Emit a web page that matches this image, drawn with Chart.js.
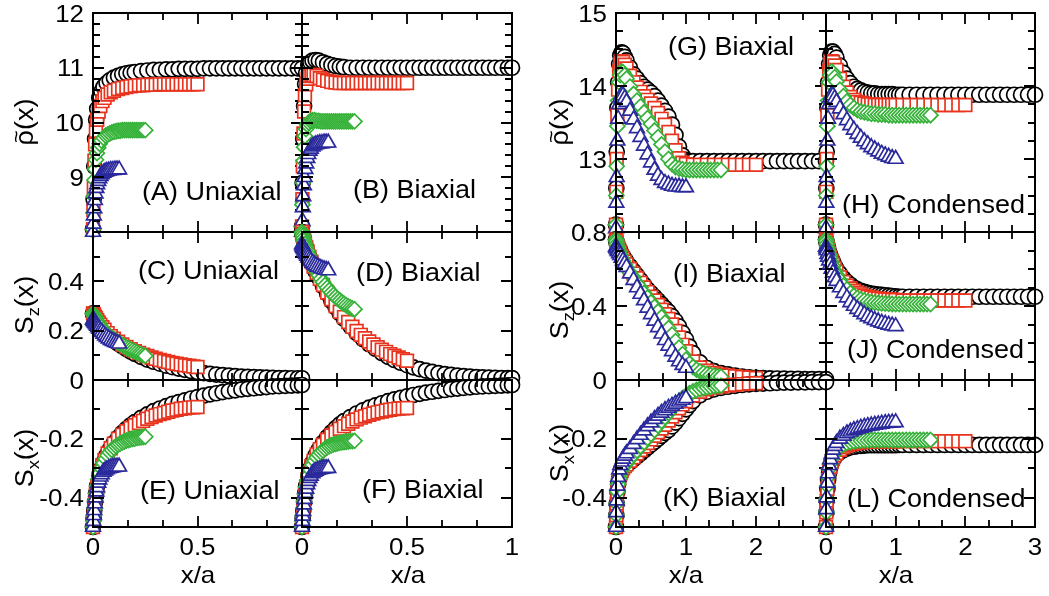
<!DOCTYPE html>
<html>
<head>
<meta charset="utf-8">
<script src="https://cdn.jsdelivr.net/npm/chart.js@4.4.0/dist/chart.umd.min.js"></script>
<style>
  body { margin: 0; background: #fff; }
  #wrap { position: relative; width: 1049px; height: 596px; }
  #wrap canvas { position: absolute; left: 0; top: 0; }
</style>
</head>
<body>
<div id="wrap"></div>
<script>
// x grids (x/a), left group (A-F) and right group (G-L)
const xBlkL = [0, 0.003, 0.006, 0.01, 0.015, 0.02, 0.03, 0.04, 0.05, 0.065, 0.08, 0.1, 0.12, 0.14, 0.16, 0.18, 0.2, 0.23, 0.26, 0.29, 0.32, 0.35, 0.38, 0.41, 0.44, 0.47, 0.5, 0.53, 0.56, 0.59, 0.62, 0.65, 0.68, 0.71, 0.74, 0.77, 0.8, 0.83, 0.86, 0.89, 0.92, 0.95, 0.98, 1.0];
const xRedL = [0, 0.002, 0.004, 0.007, 0.01, 0.014, 0.02, 0.027, 0.035, 0.045, 0.055, 0.07, 0.085, 0.1, 0.12, 0.14, 0.16, 0.18, 0.2, 0.22, 0.24, 0.26, 0.28, 0.3, 0.32, 0.34, 0.36, 0.38, 0.4, 0.42, 0.44, 0.46, 0.48, 0.5];
const xGrnL = [0, 0.002, 0.004, 0.007, 0.01, 0.014, 0.019, 0.025, 0.032, 0.04, 0.05, 0.06, 0.07, 0.08, 0.09, 0.1, 0.11, 0.12, 0.13, 0.14, 0.15, 0.16, 0.17, 0.18, 0.19, 0.2, 0.21, 0.22, 0.23, 0.24, 0.25];
const xBluL = [0, 0.002, 0.004, 0.006, 0.009, 0.012, 0.016, 0.02, 0.025, 0.03, 0.036, 0.042, 0.05, 0.058, 0.066, 0.075, 0.085, 0.095, 0.105, 0.115, 0.125];

const xBlkR = [0, 0.005, 0.01, 0.02, 0.03, 0.045, 0.06, 0.08, 0.1, 0.125, 0.15, 0.2, 0.25, 0.3, 0.35, 0.4, 0.45, 0.5, 0.55, 0.6, 0.65, 0.7, 0.75, 0.8, 0.85, 0.9, 0.95, 1.0, 1.05, 1.1, 1.2, 1.3, 1.4, 1.5, 1.6, 1.7, 1.8, 1.9, 2.0, 2.1, 2.2, 2.3, 2.4, 2.5, 2.6, 2.7, 2.8, 2.9, 3.0];
const xRedR = [0, 0.005, 0.01, 0.02, 0.03, 0.045, 0.06, 0.08, 0.1, 0.125, 0.15, 0.2, 0.25, 0.3, 0.35, 0.4, 0.45, 0.5, 0.55, 0.6, 0.65, 0.7, 0.75, 0.8, 0.85, 0.9, 0.95, 1.0, 1.1, 1.2, 1.3, 1.4, 1.5, 1.6, 1.7, 1.8, 1.9, 2.0];
const xGrnR = [0, 0.005, 0.01, 0.02, 0.03, 0.045, 0.06, 0.08, 0.1, 0.125, 0.15, 0.2, 0.25, 0.3, 0.35, 0.4, 0.45, 0.5, 0.55, 0.6, 0.65, 0.7, 0.75, 0.8, 0.85, 0.9, 0.95, 1.0, 1.05, 1.1, 1.15, 1.2, 1.25, 1.3, 1.35, 1.4, 1.45, 1.5];
const xBluR = [0, 0.005, 0.01, 0.02, 0.03, 0.045, 0.06, 0.08, 0.1, 0.125, 0.15, 0.2, 0.25, 0.3, 0.35, 0.4, 0.45, 0.5, 0.55, 0.6, 0.65, 0.7, 0.75, 0.8, 0.85, 0.9, 0.95, 1.0];

// (A) rho uniaxial
const aBlk = [8.05, 8.6, 9.2, 9.7, 10.05, 10.25, 10.45, 10.57, 10.65, 10.72, 10.77, 10.82, 10.85, 10.88, 10.9, 10.91, 10.92, 10.94, 10.95, 10.96, 10.96, 10.97, 10.97, 10.98, 10.98, 10.98, 10.98, 10.99, 10.99, 10.99, 10.99, 10.99, 10.99, 10.99, 10.99, 10.99, 10.99, 10.99, 10.99, 10.99, 10.99, 10.99, 10.99, 10.99];
const aRed = [8.05, 8.4, 8.8, 9.3, 9.6, 9.85, 10.05, 10.2, 10.3, 10.39, 10.45, 10.51, 10.55, 10.58, 10.61, 10.63, 10.65, 10.66, 10.67, 10.68, 10.68, 10.69, 10.69, 10.69, 10.7, 10.7, 10.7, 10.7, 10.7, 10.7, 10.7, 10.7, 10.7, 10.7];
const aGrn = [8.05, 8.35, 8.65, 8.95, 9.15, 9.32, 9.44, 9.54, 9.61, 9.67, 9.72, 9.76, 9.78, 9.8, 9.82, 9.83, 9.84, 9.85, 9.85, 9.86, 9.86, 9.86, 9.86, 9.86, 9.86, 9.86, 9.86, 9.86, 9.86, 9.86, 9.86];
const aBlu = [8.0, 8.15, 8.3, 8.43, 8.58, 8.7, 8.8, 8.87, 8.93, 8.98, 9.02, 9.05, 9.08, 9.1, 9.11, 9.12, 9.13, 9.13, 9.14, 9.14, 9.14];
// (B) rho biaxial
const bBlk = [8.1, 8.9, 9.7, 10.3, 10.7, 10.9, 11.05, 11.1, 11.13, 11.14, 11.13, 11.1, 11.07, 11.05, 11.03, 11.02, 11.01, 11.0, 11.0, 11.0, 11.0, 11.0, 11.0, 11.0, 11.0, 11.0, 11.0, 11.0, 11.0, 11.0, 11.0, 11.0, 11.0, 11.0, 11.0, 11.0, 11.0, 11.0, 11.0, 11.0, 11.0, 11.0, 11.0, 11.0];
const bRed = [8.1, 8.6, 9.2, 9.8, 10.2, 10.5, 10.7, 10.8, 10.85, 10.87, 10.87, 10.85, 10.81, 10.78, 10.76, 10.74, 10.73, 10.72, 10.72, 10.72, 10.72, 10.72, 10.72, 10.72, 10.72, 10.72, 10.72, 10.72, 10.72, 10.72, 10.72, 10.72, 10.72, 10.72];
const bGrn = [8.1, 8.5, 8.9, 9.3, 9.55, 9.75, 9.88, 9.96, 10.0, 10.03, 10.04, 10.04, 10.03, 10.03, 10.02, 10.02, 10.02, 10.02, 10.02, 10.02, 10.02, 10.02, 10.02, 10.02, 10.02, 10.02, 10.02, 10.02, 10.02, 10.02, 10.02];
const bBlu = [8.0, 8.2, 8.45, 8.65, 8.85, 9.0, 9.15, 9.25, 9.35, 9.42, 9.48, 9.52, 9.56, 9.58, 9.6, 9.61, 9.62, 9.62, 9.63, 9.63, 9.63];
// (C) Sz uniaxial
const cBlk = [0.27, 0.265, 0.26, 0.255, 0.248, 0.24, 0.228, 0.216, 0.205, 0.19, 0.177, 0.162, 0.148, 0.136, 0.125, 0.115, 0.106, 0.094, 0.083, 0.074, 0.066, 0.058, 0.052, 0.046, 0.041, 0.036, 0.032, 0.028, 0.025, 0.022, 0.02, 0.018, 0.016, 0.014, 0.013, 0.012, 0.011, 0.01, 0.009, 0.008, 0.008, 0.007, 0.007, 0.007];
const cRed = [0.27, 0.268, 0.265, 0.26, 0.255, 0.25, 0.242, 0.233, 0.224, 0.214, 0.204, 0.19, 0.178, 0.167, 0.155, 0.144, 0.134, 0.125, 0.117, 0.11, 0.103, 0.097, 0.091, 0.086, 0.081, 0.077, 0.073, 0.069, 0.066, 0.063, 0.06, 0.058, 0.055, 0.053];
const cGrn = [0.27, 0.267, 0.264, 0.259, 0.254, 0.248, 0.24, 0.232, 0.223, 0.214, 0.204, 0.195, 0.186, 0.178, 0.171, 0.164, 0.158, 0.152, 0.147, 0.142, 0.137, 0.132, 0.128, 0.124, 0.12, 0.116, 0.112, 0.108, 0.105, 0.101, 0.098];
const cBlu = [0.245, 0.243, 0.24, 0.237, 0.233, 0.229, 0.224, 0.219, 0.213, 0.207, 0.2, 0.194, 0.187, 0.18, 0.174, 0.168, 0.162, 0.157, 0.153, 0.15, 0.147];
// (D) Sz biaxial
const dBlk = [0.6, 0.59, 0.58, 0.565, 0.55, 0.535, 0.51, 0.49, 0.47, 0.44, 0.415, 0.38, 0.35, 0.32, 0.295, 0.27, 0.248, 0.218, 0.19, 0.166, 0.145, 0.126, 0.109, 0.094, 0.081, 0.07, 0.06, 0.051, 0.044, 0.038, 0.033, 0.028, 0.024, 0.021, 0.018, 0.016, 0.014, 0.012, 0.011, 0.01, 0.009, 0.008, 0.008, 0.008];
const dRed = [0.6, 0.592, 0.585, 0.575, 0.565, 0.553, 0.537, 0.52, 0.5, 0.48, 0.46, 0.435, 0.41, 0.385, 0.355, 0.327, 0.3, 0.277, 0.255, 0.235, 0.216, 0.199, 0.183, 0.169, 0.156, 0.144, 0.133, 0.123, 0.114, 0.105, 0.098, 0.091, 0.084, 0.078];
const dGrn = [0.6, 0.592, 0.584, 0.574, 0.564, 0.552, 0.539, 0.524, 0.508, 0.491, 0.472, 0.455, 0.439, 0.424, 0.41, 0.397, 0.385, 0.374, 0.364, 0.354, 0.345, 0.337, 0.329, 0.322, 0.315, 0.309, 0.303, 0.298, 0.294, 0.29, 0.287];
const dBlu = [0.55, 0.545, 0.54, 0.536, 0.53, 0.524, 0.517, 0.51, 0.503, 0.496, 0.489, 0.482, 0.475, 0.469, 0.464, 0.459, 0.455, 0.451, 0.448, 0.446, 0.444];
// (E) Sx uniaxial
const eBlk = [-0.5, -0.47, -0.445, -0.415, -0.385, -0.36, -0.325, -0.3, -0.28, -0.256, -0.236, -0.214, -0.196, -0.18, -0.166, -0.154, -0.143, -0.129, -0.117, -0.106, -0.097, -0.089, -0.081, -0.075, -0.069, -0.063, -0.058, -0.053, -0.049, -0.045, -0.041, -0.038, -0.035, -0.032, -0.03, -0.028, -0.026, -0.024, -0.022, -0.021, -0.02, -0.019, -0.018, -0.017];
const eRed = [-0.5, -0.48, -0.46, -0.435, -0.41, -0.385, -0.36, -0.335, -0.312, -0.29, -0.272, -0.25, -0.232, -0.217, -0.2, -0.186, -0.174, -0.163, -0.154, -0.146, -0.139, -0.132, -0.126, -0.121, -0.116, -0.112, -0.108, -0.104, -0.101, -0.098, -0.096, -0.094, -0.093, -0.092];
const eGrn = [-0.5, -0.48, -0.46, -0.435, -0.41, -0.385, -0.36, -0.338, -0.318, -0.3, -0.283, -0.268, -0.256, -0.246, -0.238, -0.231, -0.225, -0.22, -0.216, -0.212, -0.209, -0.206, -0.204, -0.202, -0.2, -0.199, -0.197, -0.196, -0.195, -0.194, -0.193];
const eBlu = [-0.5, -0.48, -0.46, -0.443, -0.42, -0.4, -0.38, -0.365, -0.35, -0.339, -0.329, -0.321, -0.313, -0.308, -0.304, -0.301, -0.299, -0.297, -0.296, -0.295, -0.295];
// (F) Sx biaxial
const fBlk = [-0.5, -0.47, -0.445, -0.415, -0.385, -0.36, -0.325, -0.3, -0.28, -0.256, -0.236, -0.213, -0.194, -0.178, -0.164, -0.151, -0.14, -0.126, -0.114, -0.103, -0.094, -0.086, -0.079, -0.072, -0.066, -0.061, -0.056, -0.051, -0.047, -0.043, -0.04, -0.037, -0.034, -0.031, -0.029, -0.027, -0.025, -0.023, -0.022, -0.021, -0.02, -0.019, -0.018, -0.017];
const fRed = [-0.5, -0.48, -0.46, -0.435, -0.41, -0.386, -0.362, -0.338, -0.315, -0.293, -0.275, -0.253, -0.235, -0.22, -0.203, -0.189, -0.177, -0.166, -0.157, -0.149, -0.141, -0.134, -0.128, -0.123, -0.118, -0.114, -0.11, -0.107, -0.104, -0.101, -0.099, -0.097, -0.096, -0.095];
const fGrn = [-0.5, -0.48, -0.46, -0.436, -0.412, -0.388, -0.364, -0.342, -0.323, -0.306, -0.289, -0.275, -0.263, -0.254, -0.246, -0.24, -0.234, -0.229, -0.225, -0.222, -0.219, -0.217, -0.215, -0.213, -0.212, -0.211, -0.21, -0.209, -0.208, -0.208, -0.207];
const fBlu = [-0.5, -0.48, -0.462, -0.446, -0.424, -0.405, -0.385, -0.37, -0.355, -0.344, -0.334, -0.326, -0.318, -0.313, -0.309, -0.306, -0.304, -0.302, -0.301, -0.3, -0.3];
// (G) rho biaxial, wide slab
const gBlk = [12.1, 12.6, 13.1, 13.7, 14.05, 14.3, 14.42, 14.46, 14.45, 14.4, 14.35, 14.25, 14.16, 14.1, 14.04, 13.99, 13.95, 13.91, 13.86, 13.8, 13.73, 13.66, 13.58, 13.47, 13.33, 13.17, 13.05, 12.99, 12.97, 12.97, 12.97, 12.97, 12.97, 12.97, 12.97, 12.97, 12.97, 12.97, 12.97, 12.97, 12.97, 12.97, 12.97, 12.97, 12.97, 12.97, 12.97, 12.97, 12.97];
const gRed = [12.1, 12.55, 13.0, 13.6, 13.95, 14.2, 14.3, 14.34, 14.33, 14.29, 14.24, 14.14, 14.05, 13.98, 13.92, 13.86, 13.81, 13.76, 13.7, 13.63, 13.55, 13.47, 13.37, 13.25, 13.12, 13.01, 12.95, 12.93, 12.92, 12.92, 12.92, 12.92, 12.92, 12.92, 12.92, 12.92, 12.92, 12.92];
const gGrn = [12.1, 12.5, 12.9, 13.45, 13.8, 14.05, 14.15, 14.2, 14.19, 14.15, 14.1, 13.99, 13.89, 13.8, 13.72, 13.64, 13.56, 13.48, 13.39, 13.3, 13.2, 13.1, 13.0, 12.93, 12.89, 12.87, 12.86, 12.85, 12.85, 12.85, 12.85, 12.85, 12.85, 12.85, 12.85, 12.85, 12.85, 12.85];
const gBlu = [12.05, 12.4, 12.75, 13.25, 13.55, 13.75, 13.84, 13.88, 13.87, 13.83, 13.78, 13.66, 13.54, 13.42, 13.3, 13.18, 13.06, 12.95, 12.85, 12.77, 12.71, 12.67, 12.65, 12.63, 12.62, 12.62, 12.61, 12.61];
// (H) rho condensed
const hBlk = [12.1, 12.6, 13.1, 13.7, 14.05, 14.3, 14.42, 14.47, 14.47, 14.44, 14.39, 14.28, 14.18, 14.1, 14.04, 13.99, 13.96, 13.94, 13.92, 13.91, 13.9, 13.9, 13.89, 13.89, 13.89, 13.89, 13.89, 13.88, 13.88, 13.88, 13.88, 13.88, 13.88, 13.88, 13.88, 13.88, 13.88, 13.88, 13.88, 13.88, 13.88, 13.88, 13.88, 13.88, 13.88, 13.88, 13.88, 13.88, 13.88];
const hRed = [12.1, 12.55, 13.0, 13.6, 13.95, 14.2, 14.3, 14.34, 14.33, 14.28, 14.22, 14.1, 13.99, 13.91, 13.85, 13.81, 13.78, 13.77, 13.76, 13.75, 13.75, 13.74, 13.74, 13.74, 13.74, 13.74, 13.74, 13.74, 13.74, 13.74, 13.74, 13.74, 13.74, 13.74, 13.74, 13.74, 13.74, 13.74];
const hGrn = [12.1, 12.5, 12.9, 13.45, 13.8, 14.05, 14.15, 14.2, 14.18, 14.12, 14.06, 13.95, 13.86, 13.79, 13.74, 13.7, 13.67, 13.65, 13.64, 13.63, 13.62, 13.62, 13.61, 13.61, 13.61, 13.6, 13.6, 13.6, 13.6, 13.6, 13.6, 13.6, 13.6, 13.6, 13.6, 13.6, 13.6, 13.6];
const hBlu = [12.05, 12.4, 12.75, 13.25, 13.55, 13.75, 13.84, 13.88, 13.87, 13.83, 13.78, 13.69, 13.61, 13.53, 13.46, 13.4, 13.34, 13.29, 13.24, 13.2, 13.16, 13.13, 13.1, 13.07, 13.05, 13.03, 13.01, 13.0];
// (I) Sz biaxial, wide slab
const iBlk = [0.76, 0.75, 0.74, 0.73, 0.72, 0.71, 0.7, 0.68, 0.67, 0.655, 0.64, 0.615, 0.59, 0.565, 0.54, 0.515, 0.49, 0.47, 0.45, 0.43, 0.41, 0.39, 0.37, 0.345, 0.32, 0.29, 0.255, 0.22, 0.18, 0.145, 0.095, 0.065, 0.048, 0.037, 0.03, 0.024, 0.019, 0.015, 0.012, 0.01, 0.009, 0.008, 0.007, 0.006, 0.006, 0.005, 0.005, 0.005, 0.005];
const iRed = [0.76, 0.75, 0.74, 0.725, 0.715, 0.7, 0.69, 0.67, 0.655, 0.64, 0.625, 0.6, 0.575, 0.55, 0.525, 0.5, 0.475, 0.45, 0.43, 0.405, 0.38, 0.355, 0.33, 0.3, 0.265, 0.23, 0.19, 0.155, 0.1, 0.068, 0.05, 0.038, 0.03, 0.024, 0.02, 0.016, 0.013, 0.011];
const iGrn = [0.76, 0.75, 0.735, 0.72, 0.71, 0.695, 0.68, 0.66, 0.645, 0.625, 0.61, 0.58, 0.555, 0.525, 0.5, 0.47, 0.445, 0.42, 0.395, 0.37, 0.34, 0.31, 0.28, 0.245, 0.21, 0.175, 0.14, 0.11, 0.088, 0.07, 0.056, 0.046, 0.038, 0.032, 0.027, 0.023, 0.02, 0.018];
const iBlu = [0.72, 0.715, 0.71, 0.7, 0.695, 0.685, 0.675, 0.66, 0.645, 0.63, 0.61, 0.575, 0.54, 0.5, 0.465, 0.43, 0.39, 0.355, 0.32, 0.285, 0.25, 0.215, 0.185, 0.155, 0.125, 0.1, 0.08, 0.065];
// (J) Sz condensed
const jBlk = [0.76, 0.75, 0.74, 0.725, 0.71, 0.69, 0.675, 0.655, 0.64, 0.62, 0.6, 0.575, 0.55, 0.53, 0.515, 0.5, 0.49, 0.482, 0.476, 0.471, 0.467, 0.464, 0.462, 0.46, 0.458, 0.456, 0.454, 0.452, 0.45, 0.45, 0.45, 0.45, 0.45, 0.45, 0.45, 0.45, 0.45, 0.45, 0.45, 0.45, 0.45, 0.45, 0.45, 0.45, 0.45, 0.45, 0.45, 0.45, 0.45];
const jRed = [0.76, 0.75, 0.74, 0.72, 0.705, 0.685, 0.665, 0.645, 0.625, 0.605, 0.585, 0.555, 0.53, 0.51, 0.495, 0.482, 0.472, 0.463, 0.456, 0.45, 0.446, 0.442, 0.44, 0.438, 0.436, 0.435, 0.434, 0.433, 0.43, 0.43, 0.43, 0.43, 0.43, 0.43, 0.43, 0.43, 0.43, 0.43];
const jGrn = [0.76, 0.75, 0.735, 0.715, 0.7, 0.68, 0.66, 0.635, 0.615, 0.59, 0.57, 0.54, 0.51, 0.49, 0.47, 0.455, 0.444, 0.436, 0.43, 0.425, 0.421, 0.418, 0.416, 0.414, 0.413, 0.412, 0.411, 0.41, 0.41, 0.41, 0.41, 0.41, 0.41, 0.41, 0.41, 0.41, 0.41, 0.41];
const jBlu = [0.72, 0.71, 0.7, 0.68, 0.665, 0.645, 0.625, 0.6, 0.58, 0.555, 0.535, 0.5, 0.47, 0.445, 0.42, 0.4, 0.383, 0.368, 0.355, 0.343, 0.333, 0.324, 0.316, 0.309, 0.303, 0.298, 0.294, 0.29];
// (K) Sx biaxial, wide slab
const kBlk = [-0.5, -0.46, -0.42, -0.38, -0.355, -0.335, -0.32, -0.31, -0.3, -0.295, -0.29, -0.28, -0.27, -0.26, -0.25, -0.24, -0.23, -0.22, -0.21, -0.2, -0.19, -0.18, -0.17, -0.158, -0.145, -0.13, -0.115, -0.1, -0.085, -0.072, -0.052, -0.04, -0.032, -0.027, -0.023, -0.02, -0.017, -0.015, -0.013, -0.012, -0.011, -0.01, -0.009, -0.009, -0.008, -0.008, -0.007, -0.007, -0.007];
const kRed = [-0.5, -0.46, -0.42, -0.38, -0.355, -0.335, -0.32, -0.31, -0.3, -0.293, -0.287, -0.275, -0.263, -0.25, -0.238, -0.226, -0.214, -0.202, -0.19, -0.178, -0.165, -0.152, -0.138, -0.124, -0.11, -0.096, -0.083, -0.072, -0.053, -0.04, -0.032, -0.026, -0.022, -0.019, -0.016, -0.014, -0.012, -0.011];
const kGrn = [-0.5, -0.46, -0.42, -0.38, -0.355, -0.335, -0.32, -0.308, -0.298, -0.29, -0.282, -0.268, -0.254, -0.24, -0.226, -0.212, -0.198, -0.184, -0.17, -0.155, -0.14, -0.126, -0.112, -0.098, -0.085, -0.073, -0.062, -0.053, -0.045, -0.039, -0.034, -0.03, -0.027, -0.025, -0.023, -0.021, -0.02, -0.019];
const kBlu = [-0.5, -0.45, -0.41, -0.36, -0.33, -0.305, -0.29, -0.278, -0.268, -0.258, -0.25, -0.235, -0.218, -0.202, -0.187, -0.172, -0.158, -0.145, -0.133, -0.122, -0.112, -0.103, -0.095, -0.088, -0.081, -0.074, -0.068, -0.062];
// (L) Sx condensed
const lBlk = [-0.5, -0.45, -0.41, -0.37, -0.34, -0.315, -0.298, -0.283, -0.272, -0.262, -0.255, -0.245, -0.238, -0.233, -0.229, -0.227, -0.225, -0.224, -0.223, -0.222, -0.222, -0.222, -0.222, -0.222, -0.222, -0.222, -0.222, -0.222, -0.221, -0.221, -0.221, -0.221, -0.221, -0.221, -0.221, -0.221, -0.221, -0.221, -0.221, -0.221, -0.221, -0.221, -0.221, -0.221, -0.221, -0.221, -0.221, -0.221, -0.221];
const lRed = [-0.5, -0.45, -0.41, -0.37, -0.34, -0.313, -0.295, -0.279, -0.267, -0.256, -0.248, -0.237, -0.229, -0.223, -0.219, -0.216, -0.214, -0.212, -0.211, -0.21, -0.209, -0.209, -0.209, -0.209, -0.209, -0.209, -0.209, -0.209, -0.208, -0.208, -0.208, -0.208, -0.208, -0.208, -0.208, -0.208, -0.208, -0.208];
const lGrn = [-0.5, -0.45, -0.405, -0.36, -0.33, -0.302, -0.284, -0.268, -0.256, -0.245, -0.237, -0.226, -0.219, -0.214, -0.211, -0.209, -0.207, -0.206, -0.205, -0.205, -0.204, -0.204, -0.204, -0.204, -0.204, -0.204, -0.204, -0.204, -0.204, -0.204, -0.204, -0.204, -0.204, -0.204, -0.204, -0.204, -0.204, -0.204];
const lBlu = [-0.5, -0.44, -0.4, -0.35, -0.318, -0.29, -0.27, -0.252, -0.238, -0.225, -0.215, -0.2, -0.19, -0.182, -0.176, -0.171, -0.167, -0.163, -0.16, -0.157, -0.155, -0.153, -0.151, -0.149, -0.147, -0.146, -0.145, -0.144];

// tick labels
const yLabA = [9, 10, 11, 12];
const yLabC = [0, 0.2, 0.4];
const yLabE = [-0.4, -0.2];
const yLabG = [13, 14, 15];
const yLabI = [0, 0.4, 0.8];
const yLabK = [-0.4, -0.2];
const xLabE = [0, 0.5];
const xLabF = [0, 0.5, 1];
const xLabK = [0, 1, 2];
const xLabL = [0, 1, 2, 3];

const W = 1049, H = 596;
const FONT = '"Liberation Sans", Arial, Helvetica, sans-serif';
const colX = [[93, 302], [302, 512], [616, 826], [826, 1035]];
const rowY = [[13, 232], [232, 380], [380, 527]];

const xAxL = { min: 0, max: 1, minor: 1 / 6, major: 0.5 };
const xAxR = { min: 0, max: 3, minor: 1 / 3, major: 1 };
const yRhoL = { min: 8, max: 12, minor: 0.2, major: 1 };
const ySzL = { min: 0, max: 0.6, minor: 0.1, major: 0.2 };
const ySx = { min: -0.5, max: 0, minor: 0.1, major: 0.2 };
const yRhoR = { min: 12, max: 15, minor: 0.25, major: 1 };
const ySzR = { min: 0, max: 0.8, minor: 0.1, major: 0.4 };

const gridL = [xBlkL, xRedL, xGrnL, xBluL];
const gridR = [xBlkR, xRedR, xGrnR, xBluR];

const panels = [
  { c: 0, r: 0, xg: gridL, ys: [aBlk, aRed, aGrn, aBlu], xa: xAxL, ya: yRhoL, yl: yLabA, label: '(A) Uniaxial', lp: [142, 200], yt: ['rho', 33, 122] },
  { c: 1, r: 0, xg: gridL, ys: [bBlk, bRed, bGrn, bBlu], xa: xAxL, ya: yRhoL, label: '(B) Biaxial', lp: [353, 198] },
  { c: 0, r: 1, xg: gridL, ys: [cBlk, cRed, cGrn, cBlu], xa: xAxL, ya: ySzL, yl: yLabC, label: '(C) Uniaxial', lp: [138, 279], yt: ['z', 33, 305] },
  { c: 1, r: 1, xg: gridL, ys: [dBlk, dRed, dGrn, dBlu], xa: xAxL, ya: ySzL, label: '(D) Biaxial', lp: [356, 281] },
  { c: 0, r: 2, xg: gridL, ys: [eBlk, eRed, eGrn, eBlu], xa: xAxL, ya: ySx, yl: yLabE, xl: xLabE, xt: 198, label: '(E) Uniaxial', lp: [140, 499], yt: ['x', 33, 458] },
  { c: 1, r: 2, xg: gridL, ys: [fBlk, fRed, fGrn, fBlu], xa: xAxL, ya: ySx, xl: xLabF, xt: 408, label: '(F) Biaxial', lp: [362, 498] },
  { c: 2, r: 0, xg: gridR, ys: [gBlk, gRed, gGrn, gBlu], xa: xAxR, ya: yRhoR, yl: yLabG, label: '(G) Biaxial', lp: [668, 55], yt: ['rho', 568, 122] },
  { c: 3, r: 0, xg: gridR, ys: [hBlk, hRed, hGrn, hBlu], xa: xAxR, ya: yRhoR, label: '(H) Condensed', lp: [842, 213] },
  { c: 2, r: 1, xg: gridR, ys: [iBlk, iRed, iGrn, iBlu], xa: xAxR, ya: ySzR, yl: yLabI, label: '(I) Biaxial', lp: [673, 282], yt: ['z', 568, 310] },
  { c: 3, r: 1, xg: gridR, ys: [jBlk, jRed, jGrn, jBlu], xa: xAxR, ya: ySzR, label: '(J) Condensed', lp: [847, 358] },
  { c: 2, r: 2, xg: gridR, ys: [kBlk, kRed, kGrn, kBlu], xa: xAxR, ya: ySx, yl: yLabK, xl: xLabK, xt: 686, label: '(K) Biaxial', lp: [663, 506], yt: ['x', 568, 453] },
  { c: 3, r: 2, xg: gridR, ys: [lBlk, lRed, lGrn, lBlu], xa: xAxR, ya: ySx, xl: xLabL, xt: 896, label: '(L) Condensed', lp: [847, 507] }
];

// marker look per series: black circles, red squares, green diamonds, blue triangles
const looks = [
  { color: '#000000', style: 'circle', r: 7.5 },
  { color: '#e8341e', style: 'rect', r: 9 },
  { color: '#36b239', style: 'rectRot', r: 7.5 },
  { color: '#2a2a9c', style: 'triangle', r: 8.5 }
];

function tickList(ax) {
  const out = [];
  const n = Math.round((ax.max - ax.min) / ax.minor);
  for (let k = 0; k <= n; k++) {
    const v = ax.min + k * ax.minor;
    const q = v / ax.major;
    out.push({ v: v, major: Math.abs(q - Math.round(q)) < 1e-6 });
  }
  return out;
}

function text(ctx, s, x, y, align, size) {
  ctx.save();
  ctx.translate(x, y);
  ctx.scale(1.08, 1);
  ctx.font = size + 'px ' + FONT;
  ctx.textAlign = align;
  ctx.textBaseline = 'alphabetic';
  ctx.fillStyle = '#000';
  ctx.fillText(s, 0, 0);
  ctx.restore();
}

function yTitle(ctx, kind, x, y) {
  ctx.save();
  ctx.translate(x, y);
  ctx.rotate(-Math.PI / 2);
  ctx.scale(1.08, 1);
  ctx.fillStyle = '#000';
  ctx.textBaseline = 'alphabetic';
  ctx.textAlign = 'left';
  ctx.font = '25px ' + FONT;
  if (kind === 'rho') {
    const w1 = ctx.measureText('\u03C1').width, w2 = ctx.measureText('(x)').width;
    const x0 = -(w1 + w2) / 2;
    ctx.fillText('\u03C1', x0, 0);
    ctx.fillText('(x)', x0 + w1, 0);
    ctx.font = '20px ' + FONT;
    const wt = ctx.measureText('~').width;
    ctx.fillText('~', x0 + (w1 - wt) / 2 + 1, -10);
  } else {
    const wS = ctx.measureText('S').width, wP = ctx.measureText('(x)').width;
    ctx.font = '17px ' + FONT;
    const wz = ctx.measureText(kind).width;
    const x0 = -(wS + wz + wP) / 2;
    ctx.fillText(kind, x0 + wS, 6);
    ctx.font = '25px ' + FONT;
    ctx.fillText('S', x0, 0);
    ctx.fillText('(x)', x0 + wS + wz, 0);
  }
  ctx.restore();
}

const framePlugin = {
  id: 'frame',
  afterDatasetsDraw(chart) {
    const p = chart.options.plugins.frame;
    const ctx = chart.ctx, a = chart.chartArea;
    const xs = chart.scales.x, ys = chart.scales.y;
    ctx.save();
    ctx.strokeStyle = '#000';
    ctx.lineWidth = 2;
    ctx.strokeRect(a.left, a.top, a.right - a.left, a.bottom - a.top);
    ctx.lineWidth = 1.8;
    ctx.beginPath();
    tickList(p.xa).forEach(t => {
      const px = Math.round(xs.getPixelForValue(t.v));
      const len = t.major ? 11 : 7;
      ctx.moveTo(px, a.bottom); ctx.lineTo(px, a.bottom - len);
      ctx.moveTo(px, a.top); ctx.lineTo(px, a.top + len);
    });
    tickList(p.ya).forEach(t => {
      const py = Math.round(ys.getPixelForValue(t.v));
      const len = t.major ? 11 : 7;
      ctx.moveTo(a.left, py); ctx.lineTo(a.left + len, py);
      ctx.moveTo(a.right, py); ctx.lineTo(a.right - len, py);
    });
    ctx.stroke();
    ctx.restore();

    if (p.yl) p.yl.forEach(v => text(ctx, String(v), a.left - 9, ys.getPixelForValue(v) + 8.5, 'right', 24));
    if (p.xl) p.xl.forEach(v => text(ctx, String(v), xs.getPixelForValue(v), a.bottom + 28, 'center', 24));
    if (p.xt) text(ctx, 'x/a', p.xt, 583, 'center', 24);
    if (p.yt) yTitle(ctx, p.yt[0], p.yt[1], p.yt[2]);
    text(ctx, p.label, p.lp[0], p.lp[1], 'left', 25);
  }
};

const wrap = document.getElementById('wrap');

panels.forEach(p => {
  const cv = document.createElement('canvas');
  cv.width = W; cv.height = H;
  wrap.appendChild(cv);
  const [x0, x1] = colX[p.c], [y0, y1] = rowY[p.r];
  // blue first so it is drawn on top, black last (drawn underneath)
  const datasets = [3, 2, 1, 0].map(i => {
    const lk = looks[i], xg = p.xg[i], yv = p.ys[i];
    return {
      data: xg.map((x, k) => ({ x: x, y: yv[k] })).filter(d => d.y !== undefined),
      showLine: false,
      pointStyle: lk.style,
      pointRadius: lk.r,
      pointBorderColor: lk.color,
      pointBackgroundColor: '#ffffff',
      pointBorderWidth: 1.7,
      clip: false
    };
  });
  new Chart(cv, {
    type: 'scatter',
    data: { datasets: datasets },
    options: {
      responsive: false,
      animation: false,
      devicePixelRatio: 1,
      events: [],
      layout: { padding: { left: x0, top: y0, right: W - x1, bottom: H - y1 } },
      scales: {
        x: { type: 'linear', display: false, min: p.xa.min, max: p.xa.max },
        y: { type: 'linear', display: false, min: p.ya.min, max: p.ya.max }
      },
      plugins: { legend: { display: false }, tooltip: { enabled: false }, frame: p }
    },
    plugins: [framePlugin]
  });
});
</script>
</body>
</html>
